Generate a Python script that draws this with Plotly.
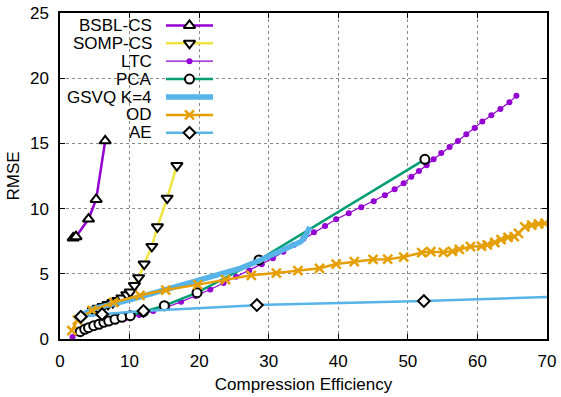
import plotly.graph_objects as go

# ---------------- data ----------------
bsbl_x = [1.9, 2.3, 4.1, 5.2, 6.5]
bsbl_y = [7.75, 7.85, 9.2, 10.7, 15.2]

somp_x = [4.8, 5.5, 6.2, 6.9, 7.6, 8.3, 8.9, 9.6, 10.1, 10.7, 11.3, 12.1, 13.2, 14.0, 15.4, 16.8]
somp_y = [2.2, 2.35, 2.5, 2.65, 2.8, 2.95, 3.15, 3.4, 3.6, 4.1, 4.7, 5.75, 7.1, 8.6, 10.8, 13.3]

ltc_x = [1.8, 3.5, 5.5, 7.5, 9.4, 11.4, 13.4, 15.4, 17.4, 19.5, 21.6, 23.5, 25.3, 27.2,
         29.0, 30.6, 32.1, 33.6, 35.0, 36.5, 38.1, 39.7, 41.5, 43.3, 45.1, 46.7, 48.1,
         49.4, 50.5, 51.6, 52.7, 53.7, 54.8, 56.0, 57.2, 58.4, 59.6, 60.7, 62.0, 63.3, 64.6, 65.6]
ltc_y = [0.15, 0.65, 1.05, 1.35, 1.6, 1.85, 2.15, 2.45, 2.85, 3.3, 3.8, 4.3, 4.78, 5.26,
         5.73, 6.19, 6.7, 7.2, 7.7, 8.18, 8.67, 9.18, 9.64, 10.1, 10.56, 11.02, 11.48,
         11.94, 12.45, 12.88, 13.32, 13.78, 14.26, 14.72, 15.18, 15.7, 16.18, 16.67, 17.15, 17.64, 18.15, 18.66]

pca_x = [2.9, 3.55, 4.1, 4.85, 5.6, 6.3, 7.0, 7.9, 8.9, 10.1, 12.0, 15.0, 19.7, 28.6, 52.45]
pca_y = [0.56, 0.74, 0.87, 1.02, 1.13, 1.28, 1.38, 1.51, 1.66, 1.79, 2.1, 2.55, 3.55, 6.06, 13.78]

gsvq_x = [2.2, 5.0, 10.0, 15.0, 17.3, 20.0, 25.9, 28.6, 32.2, 33.6, 34.6, 35.3, 35.9]
gsvq_y = [1.6, 2.35, 3.0, 3.75, 4.2, 4.55, 5.42, 6.0, 6.9, 7.15, 7.45, 7.9, 8.6]

od_x = [1.7, 2.5, 4.6, 7.7, 11.5, 15.2, 19.8, 23.8, 27.5, 31.1, 34.2, 37.3, 39.7, 42.3,
        45.0, 47.1, 49.4, 52.0, 53.3, 55.1, 56.4, 57.4, 59.0, 60.6, 61.4, 62.5, 63.4,
        64.4, 65.3, 65.9, 66.8, 67.8, 68.8, 69.7]
od_y = [0.65, 1.45, 2.2, 2.8, 3.35, 3.75, 4.17, 4.55, 4.88, 5.06, 5.24, 5.42, 5.75, 5.93,
        6.1, 6.12, 6.28, 6.63, 6.7, 6.65, 6.72, 6.88, 7.08, 7.13, 7.22, 7.4, 7.62,
        7.8, 7.86, 8.1, 8.6, 8.74, 8.82, 8.87]

ae_x = [2.1, 3.0, 6.05, 12.0, 28.3, 52.3, 70.5]
ae_y = [1.59, 1.71, 1.9, 2.15, 2.6, 2.91, 3.22]
ae_marked = [1, 2, 3, 4, 5]  # indices of points carrying a marker

x_ticks = [0, 10, 20, 30, 40, 50, 60, 70]
y_ticks = [0, 5, 10, 15, 20, 25]

legend_names = ["BSBL-CS", "SOMP-CS", "LTC", "PCA", "GSVQ K=4", "OD", "AE"]

# ---------------- styles ----------------
PURPLE = "#9400d3"
YELLOW = "#f0e442"
GREEN = "#009e73"
SKY = "#56b4e9"
ORANGE = "#e69f00"
FONT = "Liberation Sans, Arial, sans-serif"
FS = 17

styles = {
    "BSBL-CS": dict(color=PURPLE, width=2.5, symbol="triangle-up", msize=10, mfill="white", mline="black", mlw=2),
    "SOMP-CS": dict(color=YELLOW, width=2.5, symbol="triangle-down", msize=10, mfill="white", mline="black", mlw=2),
    "LTC": dict(color=PURPLE, width=1.2, symbol="circle", msize=6, mfill=PURPLE, mline=PURPLE, mlw=0),
    "PCA": dict(color=GREEN, width=2.5, symbol="circle", msize=9, mfill="white", mline="black", mlw=2),
    "GSVQ K=4": dict(color=SKY, width=5.5, symbol=None),
    "OD": dict(color=ORANGE, width=2.5, symbol="x-thin-open", msize=9, mfill=ORANGE, mline=ORANGE, mlw=2.5),
    "AE": dict(color=SKY, width=2.5, symbol="diamond", msize=9, mfill="white", mline="black", mlw=2),
}

fig = go.Figure()


def marker_of(s):
    return dict(symbol=s["symbol"], size=s["msize"],
                color=s["mfill"] if "open" not in s["symbol"] else s["mline"],
                line=dict(color=s["mline"], width=s["mlw"]))


def add_series(name, xs, ys, mx=None, my=None):
    s = styles[name]
    fig.add_trace(go.Scatter(x=xs, y=ys, mode="lines", line=dict(color=s["color"], width=s["width"]),
                             showlegend=False, hoverinfo="skip"))
    if s["symbol"] is not None:
        if mx is None:
            mx, my = xs, ys
        fig.add_trace(go.Scatter(x=mx, y=my, mode="markers", showlegend=False, hoverinfo="skip",
                                 marker=marker_of(s)))


add_series("BSBL-CS", bsbl_x, bsbl_y)
add_series("SOMP-CS", somp_x, somp_y)
add_series("LTC", ltc_x, ltc_y)
add_series("PCA", pca_x, pca_y)
add_series("GSVQ K=4", gsvq_x, gsvq_y)
add_series("OD", od_x, od_y)
add_series("AE", ae_x, ae_y, [ae_x[i] for i in ae_marked], [ae_y[i] for i in ae_marked])

# ---------------- custom legend (text left of sample, like gnuplot) ----------------
L_PX, R_PX, T_PX, B_PX = 60, 547, 13, 339
row0, row_step = 25.4, 17.9
text_right, samp_l, samp_r = 154, 166, 213
for i, name in enumerate(legend_names):
    s = styles[name]
    yy = row0 + i * row_step
    fig.add_trace(go.Scatter(x=[samp_l, samp_r], y=[yy, yy], mode="lines", xaxis="x2", yaxis="y2",
                             line=dict(color=s["color"], width=s["width"]), showlegend=False, hoverinfo="skip"))
    if s["symbol"] is not None:
        fig.add_trace(go.Scatter(x=[(samp_l + samp_r) / 2], y=[yy], mode="markers", xaxis="x2", yaxis="y2",
                                 showlegend=False, hoverinfo="skip", marker=marker_of(s)))
    fig.add_annotation(x=text_right, y=yy, xref="x2", yref="y2", text=name, showarrow=False,
                       xanchor="right", yanchor="middle", font=dict(size=FS, color="black", family=FONT))

axis_common = dict(showline=True, linecolor="black", linewidth=1.5, mirror="ticks", ticks="inside",
                   ticklen=5, tickcolor="black", showgrid=True, gridcolor="#8a8a8a", griddash="dot",
                   gridwidth=1, zeroline=False, automargin=False,
                   tickfont=dict(size=FS, color="black", family=FONT))

fig.update_layout(
    width=561, height=397,
    margin=dict(l=L_PX, r=561 - R_PX, t=T_PX, b=397 - B_PX),
    paper_bgcolor="white", plot_bgcolor="white",
    font=dict(family=FONT, size=FS, color="black"),
    xaxis=dict(range=[0, 70], tickvals=x_ticks, ticklabelstandoff=6,
               title=dict(text="Compression Efficiency", standoff=8, font=dict(size=FS)), **axis_common),
    yaxis=dict(range=[0, 25], tickvals=y_ticks, ticklabelstandoff=6,
               title=dict(text="RMSE", standoff=6, font=dict(size=FS)), **axis_common),
    xaxis2=dict(overlaying="x", anchor="y2", range=[L_PX, R_PX], visible=False),
    yaxis2=dict(overlaying="y", anchor="x2", range=[B_PX, T_PX], visible=False),
    showlegend=False,
)

fig.write_html("out.html")
